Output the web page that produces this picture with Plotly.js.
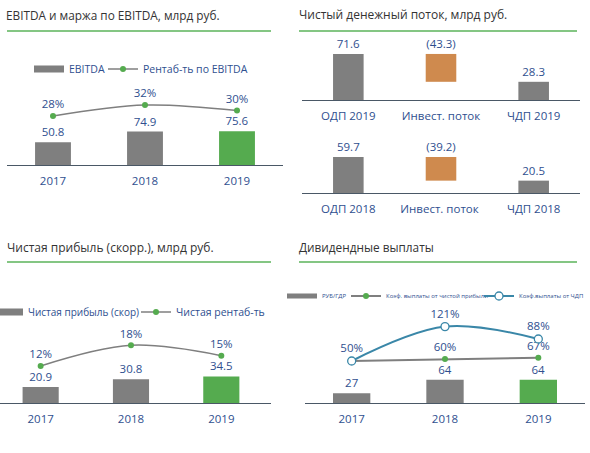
<!DOCTYPE html>
<html>
<head>
<meta charset="utf-8">
<script src="https://cdn.plot.ly/plotly-3.0.1.min.js"></script>
<style>html,body{margin:0;padding:0;background:#fff;}#chart{width:590px;height:453px;}</style>
</head>
<body>
<div id="chart"></div>
<script>
// ---- Data ----
const years = ['2017', '2018', '2019'];

const ebitda = [50.8, 74.9, 75.6];
const ebitdaMargin = [28, 32, 30];

const cfCats2019 = ['ОДП 2019', 'Инвест. поток', 'ЧДП 2019'];
const cf2019 = [71.6, -43.3, 28.3];
const cfCats2018 = ['ОДП 2018', 'Инвест. поток ', 'ЧДП 2018'];
const cf2018 = [59.7, -39.2, 20.5];

const netProfit = [20.9, 30.8, 34.5];
const netMargin = [12, 18, 15];

const dps = [27, 64, 64];
const payoutNI = [50, 60, 67];
const payoutFCF = [50, 121, 88];

// ---- Styles ----
const GRAY = '#7f7f7f', GREEN = '#55ab4f', ORANGE = '#cf8a4e', TEAL = '#3a87a8';
const BLUE = '#2f4f8f', AXIS = '#4a5866', TITLE = '#333333';
const FONT = 'Open Sans, Noto Sans, sans-serif';
const barColors = n => n.map((_, i) => i === n.length - 1 ? GREEN : GRAY);
const fmt1 = v => v.toFixed(1);
const pct = v => v + '%';
const py = p => 1 - p / 453, px = p => p / 590;
const LBL = {color: BLUE, size: 11.5, family: FONT};

const traces = [];
// legend-only entry for bars (wide gray bar symbol)
const barLegend = (name, leg, w) => ({type: 'scatter', mode: 'lines', x: [null], y: [null], name: name,
  line: {color: GRAY, width: w}, legend: leg, hoverinfo: 'skip'});

// Panel 1
traces.push({type: 'bar', x: years, y: ebitda, name: 'EBITDA', xaxis: 'x', yaxis: 'y', showlegend: false,
  marker: {color: barColors(ebitda)}, width: 0.39, text: ebitda.map(fmt1), textposition: 'outside',
  constraintext: 'none', textfont: LBL, cliponaxis: false, hoverinfo: 'skip'});
traces.push(Object.assign(barLegend('EBITDA', 'legend', 7), {xaxis: 'x', yaxis: 'y'}));
traces.push({type: 'scatter', mode: 'lines+markers+text', x: years, y: ebitdaMargin, name: 'Рентаб-ть по EBITDA',
  xaxis: 'x', yaxis: 'y2', line: {color: GRAY, width: 1.5, shape: 'spline'}, marker: {color: GREEN, size: 6},
  text: ebitdaMargin.map(pct), textposition: 'top center', textfont: LBL,
  cliponaxis: false, legend: 'legend2'});

// Panel 2: waterfall-like bars
function cfTrace(cats, vals, xa, ya) {
  const total = vals[0] + vals[1];
  return {type: 'bar', x: cats, y: [vals[0], Math.abs(vals[1]), vals[2]], base: [0, total, 0],
    xaxis: xa, yaxis: ya, width: 0.33, showlegend: false, marker: {color: [GRAY, ORANGE, GRAY]},
    text: vals.map(v => v < 0 ? '(' + fmt1(-v) + ')' : fmt1(v)), textposition: 'outside',
    constraintext: 'none', textfont: LBL, cliponaxis: false, hoverinfo: 'skip'};
}
traces.push(cfTrace(cfCats2019, cf2019, 'x2', 'y3'));
traces.push(cfTrace(cfCats2018, cf2018, 'x3', 'y4'));

// Panel 3
traces.push({type: 'bar', x: years, y: netProfit, name: 'Чистая прибыль (скор)', xaxis: 'x4', yaxis: 'y5',
  showlegend: false, marker: {color: barColors(netProfit)}, width: 0.4, text: netProfit.map(fmt1),
  textposition: 'outside', constraintext: 'none', textfont: LBL, cliponaxis: false, hoverinfo: 'skip'});
traces.push(Object.assign(barLegend('Чистая прибыль (скор)', 'legend3', 7), {xaxis: 'x4', yaxis: 'y5'}));
traces.push({type: 'scatter', mode: 'lines+markers+text', x: years, y: netMargin, name: 'Чистая рентаб-ть',
  xaxis: 'x4', yaxis: 'y6', line: {color: GRAY, width: 1.5, shape: 'spline'}, marker: {color: GREEN, size: 6},
  text: netMargin.map(pct), textposition: 'top center', textfont: LBL,
  cliponaxis: false, legend: 'legend4'});

// Panel 4
traces.push({type: 'bar', x: years, y: dps, name: 'РУБ/ГДР', xaxis: 'x5', yaxis: 'y7', showlegend: false,
  marker: {color: barColors(dps)}, width: 0.4, text: dps.map(String), textposition: 'outside',
  constraintext: 'none', textfont: LBL, cliponaxis: false, hoverinfo: 'skip'});
traces.push(Object.assign(barLegend('РУБ/ГДР', 'legend5', 5), {xaxis: 'x5', yaxis: 'y7'}));
traces.push({type: 'scatter', mode: 'lines+markers+text', x: years, y: payoutNI, name: 'Коэф. выплаты от чистой прибыли',
  xaxis: 'x5', yaxis: 'y8', line: {color: GRAY, width: 2}, marker: {color: GREEN, size: 6},
  text: payoutNI.map((v, i) => i === 0 ? '' : pct(v)), textposition: 'top center',
  textfont: LBL, cliponaxis: false, legend: 'legend6'});
traces.push({type: 'scatter', mode: 'lines+markers+text', x: years, y: payoutFCF, name: 'Коэф.выплаты от ЧДП',
  xaxis: 'x5', yaxis: 'y9', line: {color: TEAL, width: 2, shape: 'spline'},
  marker: {color: '#ffffff', size: 8, line: {color: TEAL, width: 1.3}},
  text: payoutFCF.map(pct), textposition: 'top center', textfont: LBL,
  cliponaxis: false, legend: 'legend7'});

const xBase = {type: 'category', showline: true, linecolor: AXIS, linewidth: 1, ticks: '', showgrid: false,
  zeroline: false, fixedrange: true, tickangle: 0, ticklabelstandoff: 5,
  tickfont: {color: BLUE, size: 11.5, family: FONT}};
const yHidden = {visible: false, fixedrange: true, showgrid: false, zeroline: false};

const leg = (textX, y, size) => ({orientation: 'h', xanchor: 'left', yanchor: 'middle',
  bgcolor: 'rgba(0,0,0,0)', itemwidth: 30, x: px(textX - 40), y: py(y),
  font: {color: BLUE, size: size, family: FONT}});

const titleAnn = (t, x, y, size) => ({text: t, xref: 'paper', yref: 'paper', x: px(x), y: py(y),
  xanchor: 'left', yanchor: 'middle', showarrow: false, font: {color: TITLE, size: size, family: FONT}});
const greenLine = (x0, x1, y) => ({type: 'line', xref: 'paper', yref: 'paper', x0: px(x0), x1: px(x1),
  y0: py(y), y1: py(y), line: {color: '#5bb35a', width: 1.5}});

const layout = {
  width: 590, height: 453, margin: {l: 0, r: 0, t: 0, b: 0, autoexpand: false},
  paper_bgcolor: '#fff', plot_bgcolor: 'rgba(0,0,0,0)',
  font: {family: FONT}, barmode: 'overlay',
  xaxis: Object.assign({}, xBase, {domain: [px(7), px(283)], anchor: 'y', range: [-0.5, 2.5]}),
  yaxis: Object.assign({}, yHidden, {domain: [py(165), py(90)], range: [0, 167.8]}),
  yaxis2: Object.assign({}, yHidden, {overlaying: 'y', anchor: 'x', range: [10.18, 37.45]}),
  xaxis2: Object.assign({}, xBase, {domain: [px(302), px(580)], anchor: 'y3', range: [-0.5, 2.5]}),
  yaxis3: Object.assign({}, yHidden, {domain: [py(100), py(40)], anchor: 'x2', range: [0, 93.3]}),
  xaxis3: Object.assign({}, xBase, {domain: [px(302), px(580)], anchor: 'y4', range: [-0.5, 2.5]}),
  yaxis4: Object.assign({}, yHidden, {domain: [py(193), py(133)], anchor: 'x3', range: [0, 99.5]}),
  xaxis4: Object.assign({}, xBase, {domain: [px(0), px(271)], anchor: 'y5', range: [-0.45, 2.55]}),
  yaxis5: Object.assign({}, yHidden, {domain: [py(403), py(320)], anchor: 'x4', range: [0, 107.8]}),
  yaxis6: Object.assign({}, yHidden, {overlaying: 'y5', anchor: 'x4', range: [1.28, 25.33]}),
  xaxis5: Object.assign({}, xBase, {domain: [px(305), px(585)], anchor: 'y7', range: [-0.5, 2.5]}),
  yaxis7: Object.assign({}, yHidden, {domain: [py(403), py(305)], anchor: 'x5', range: [0, 270.7]}),
  yaxis8: Object.assign({}, yHidden, {overlaying: 'y7', anchor: 'x5', range: [-166.5, 338.7]}),
  yaxis9: Object.assign({}, yHidden, {overlaying: 'y7', anchor: 'x5', type: 'log', range: [1.2302, 2.3240]}),
  legend: leg(69, 69, 10.5),
  legend2: leg(143, 69, 10.5),
  legend3: leg(28, 312, 10),
  legend4: leg(176, 312, 10.5),
  legend5: leg(322, 296, 6),
  legend6: leg(386, 296, 6),
  legend7: Object.assign(leg(520, 296, 6), {xanchor: 'right', x: px(589)}),
  annotations: [
    titleAnn('EBITDA и маржа по EBITDA, млрд руб.', 4, 15, 11.8),
    titleAnn('Чистый денежный поток, млрд руб.', 297, 15, 12),
    titleAnn('Чистая прибыль (скорр.), млрд руб.', 5, 247, 12),
    titleAnn('Дивидендные выплаты', 297, 247, 11.8)
  ],
  shapes: [greenLine(7, 271, 31), greenLine(299, 577, 31), greenLine(7, 271, 262), greenLine(299, 577, 262)]
};

Plotly.newPlot('chart', traces, layout, {staticPlot: true, displayModeBar: false});
</script>
</body>
</html>
